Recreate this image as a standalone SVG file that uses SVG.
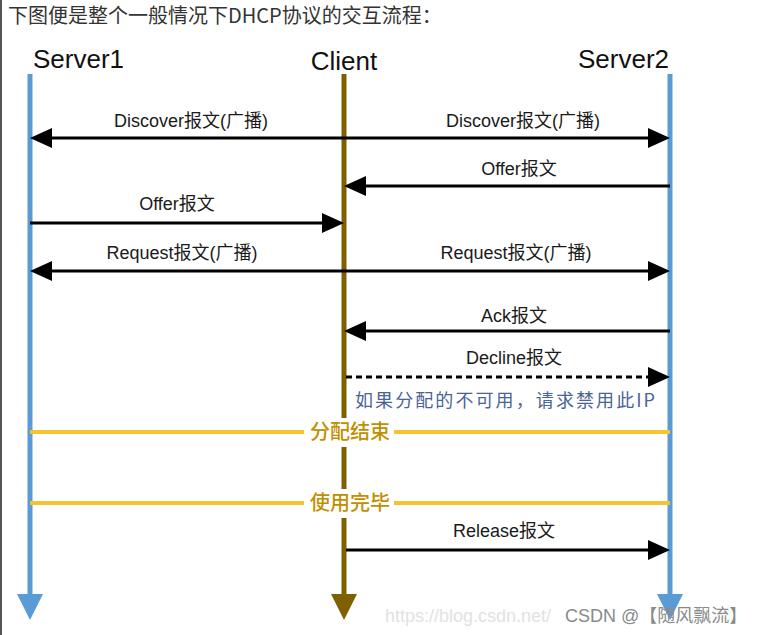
<svg xmlns="http://www.w3.org/2000/svg" width="758" height="635" viewBox="0 0 758 635">
<style>
.lbl{font-family:"Liberation Sans","Noto Sans CJK SC",sans-serif;font-size:18px;fill:#1a1a1a;text-anchor:middle}
.hdr{font-family:"Liberation Sans","Noto Sans CJK SC",sans-serif;font-size:26px;fill:#111}
.msg{stroke:#000;stroke-width:3;fill:none}
.life{stroke-width:5;fill:none}
.sep{stroke:#f5c330;stroke-width:4}
.sepl{font-family:"Noto Sans CJK SC",sans-serif;font-size:20px;font-weight:500;fill:#bf9000;text-anchor:middle}
</style>
<defs>
<marker id="ah" markerUnits="userSpaceOnUse" markerWidth="22" markerHeight="20" refX="12" refY="10" orient="auto">
<path d="M0,0 L22,10 L0,20 z" fill="#000"/>
</marker>
</defs>
<rect width="758" height="635" fill="#fff"/>
<line x1="1" y1="0" x2="1" y2="635" stroke="#555" stroke-width="2"/>
<text x="8" y="23" font-family="'Noto Sans CJK SC','Liberation Sans',sans-serif" font-size="20" fill="#333">下图便是整个一般情况下DHCP协议的交互流程：</text>

<g id="server1">
<text class="hdr" x="33" y="68">Server1</text>
<line class="life" x1="30" y1="74" x2="30" y2="596" stroke="#5b9bd5"/>
<polygon points="17,594 43,594 30,620" fill="#5b9bd5"/>
</g>
<g id="client">
<text class="hdr" x="344" y="70" text-anchor="middle">Client</text>
<line class="life" x1="344" y1="74" x2="344" y2="596" stroke="#7f6000"/>
<polygon points="331,594 357,594 344,620" fill="#7f6000"/>
</g>
<g id="server2">
<text class="hdr" x="578" y="68">Server2</text>
<line class="life" x1="670" y1="74" x2="670" y2="596" stroke="#5b9bd5"/>
<polygon points="657,594 683,594 670,620" fill="#5b9bd5"/>
</g>

<g id="connectors">
<line class="msg" x1="344" y1="138" x2="40" y2="138" marker-end="url(#ah)"/>
<line class="msg" x1="344" y1="138" x2="660" y2="138" marker-end="url(#ah)"/>
<line class="msg" x1="670" y1="186" x2="354" y2="186" marker-end="url(#ah)"/>
<line class="msg" x1="30" y1="223" x2="334" y2="223" marker-end="url(#ah)"/>
<line class="msg" x1="344" y1="271" x2="40" y2="271" marker-end="url(#ah)"/>
<line class="msg" x1="344" y1="271" x2="660" y2="271" marker-end="url(#ah)"/>
<line class="msg" x1="670" y1="331" x2="354" y2="331" marker-end="url(#ah)"/>
<line class="msg" x1="346" y1="377" x2="660" y2="377" stroke-dasharray="6,4" marker-end="url(#ah)"/>
<line class="msg" x1="346" y1="550" x2="660" y2="550" marker-end="url(#ah)"/>
</g>

<g id="labels">
<text class="lbl" x="191" y="127">Discover报文(广播)</text>
<text class="lbl" x="523" y="127">Discover报文(广播)</text>
<text class="lbl" x="519" y="175">Offer报文</text>
<text class="lbl" x="177" y="210">Offer报文</text>
<text class="lbl" x="182" y="259">Request报文(广播)</text>
<text class="lbl" x="516" y="259">Request报文(广播)</text>
<text class="lbl" x="514" y="322">Ack报文</text>
<text class="lbl" x="514" y="364">Decline报文</text>
<text class="lbl" x="504" y="537">Release报文</text>
<text x="355" y="407" font-family="'Noto Sans CJK SC',serif" font-size="18" fill="#4a6494" textLength="300" lengthAdjust="spacing">如果分配的不可用，请求禁用此IP</text>
</g>

<g id="phase-end">
<line class="sep" x1="30" y1="432" x2="670" y2="432"/>
<rect x="304" y="418" width="90" height="29" fill="#fff"/>
<text class="sepl" x="350" y="439">分配结束</text>
</g>
<g id="phase-done">
<line class="sep" x1="30" y1="503" x2="670" y2="503"/>
<rect x="304" y="489" width="90" height="29" fill="#fff"/>
<text class="sepl" x="350" y="510">使用完毕</text>
</g>

<g id="watermark">
<text x="385" y="622" font-family="'Liberation Sans',sans-serif" font-size="18" fill="#e2e2e2">https://blog.csdn.net/</text>
<text x="565" y="622" font-family="'Liberation Sans','Noto Sans CJK SC',sans-serif" font-size="18" fill="#8a8a8a">CSDN @【随风飘流】</text>
</g>
</svg>
